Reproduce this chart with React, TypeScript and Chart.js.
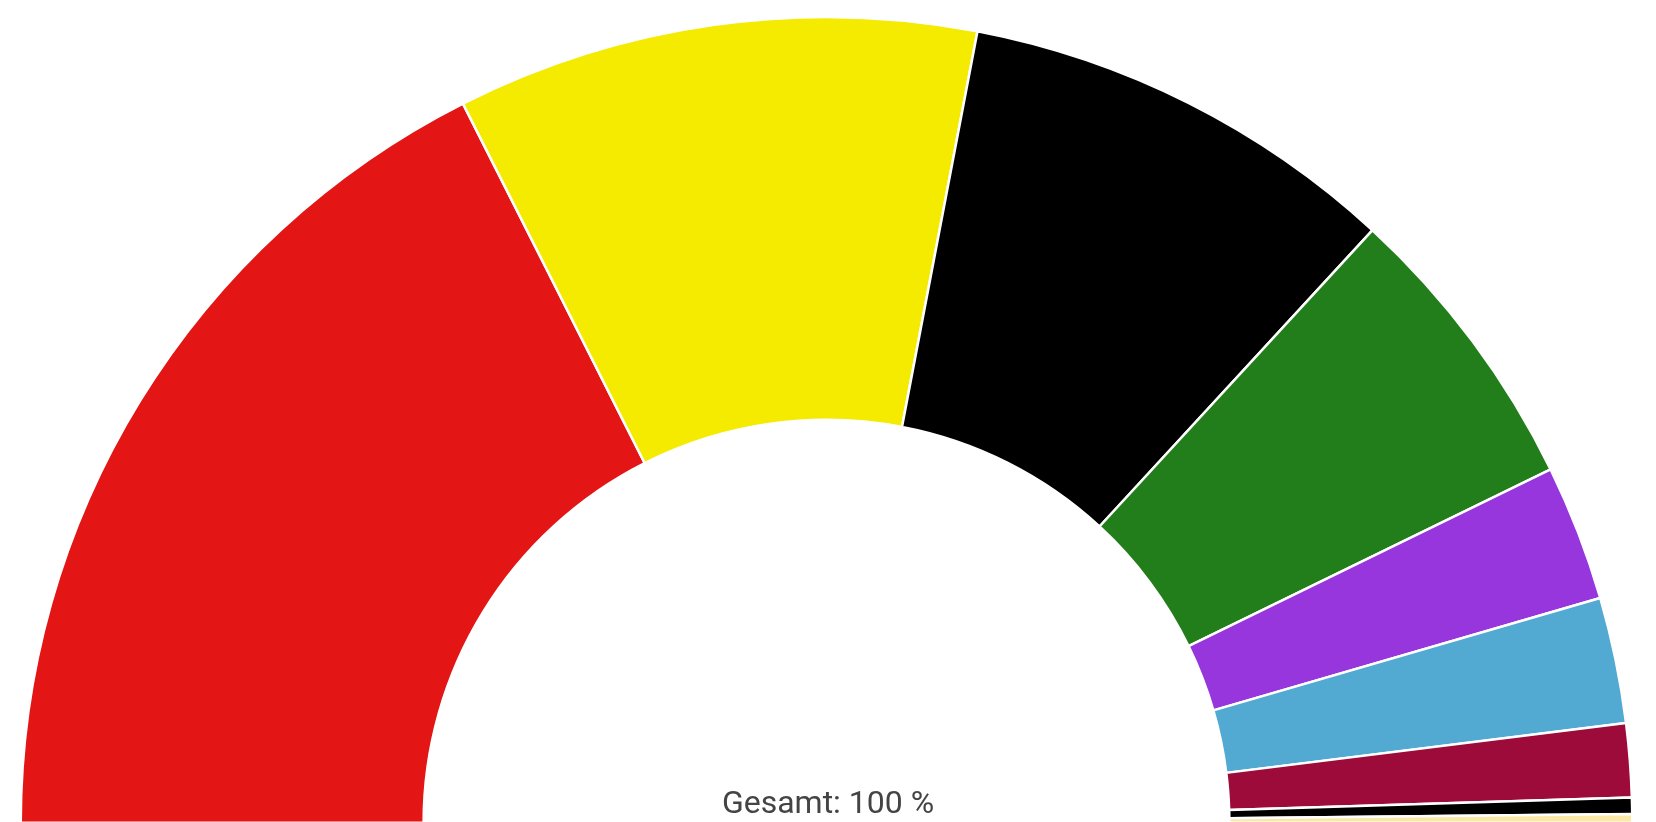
import React, { useEffect, useRef } from "react";
import { Chart, registerables } from "chart.js";

Chart.register(...registerables);

const labels = ["SPD", "FDP", "CDU", "Grüne", "Linke", "Piraten", "ÖDP", "Sonstige A", "Sonstige B"];
const values = [35.1, 20.9, 17.7, 11.85, 5.45, 5.05, 2.95, 0.65, 0.35];
const colors = ["#E31515", "#F5EB00", "#000000", "#227E1A", "#9636DC", "#52AAD3", "#9C0B3A", "#000000", "#FBE8A4"];
const totalLabel = "Gesamt: 100 %";

export default function App() {
  const ref = useRef<HTMLCanvasElement>(null);
  useEffect(() => {
    if (!ref.current) return;
    const chart = new Chart(ref.current, {
      type: "doughnut",
      data: {
        labels,
        datasets: [
          {
            data: values,
            backgroundColor: colors,
            borderColor: "#ffffff",
            borderWidth: 2.5,
          },
        ],
      },
      options: {
        responsive: false,
        animation: false,
        rotation: -90,
        circumference: 180,
        cutout: "50%",
        layout: { padding: { top: 15.75, bottom: 16, left: 19.25, right: 22.25 } },
        plugins: {
          legend: { display: false },
          tooltip: { enabled: false },
          title: { display: false },
        },
      },
    });
    return () => chart.destroy();
  }, []);
  return (
    <div style={{ position: "fixed", left: 0, top: 0, width: 1656, height: 822, overflow: "hidden", background: "#fff" }}>
      <canvas ref={ref} width={1656} height={840} style={{ position: "absolute", left: 0, top: 0, width: 1656, height: 840 }} />
      <div
        style={{
          position: "absolute",
          left: 0,
          width: 1656,
          top: 782,
          textAlign: "center",
          fontFamily: "Roboto, sans-serif",
          fontSize: 32,
          lineHeight: "40px",
          color: "#444444",
        }}
      >
        {totalLabel}
      </div>
    </div>
  );
}
